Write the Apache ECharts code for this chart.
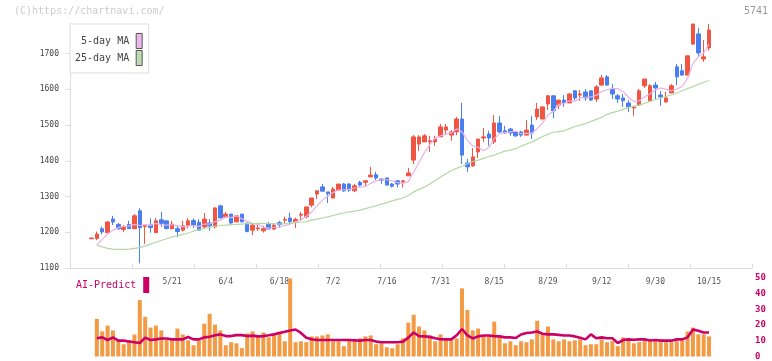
<!DOCTYPE html>
<html><head><meta charset="utf-8">
<script src="https://cdn.jsdelivr.net/npm/echarts@6/dist/echarts.min.js"></script>
<style>html,body{margin:0;padding:0;background:#fff}#c{width:772px;height:361px}</style>
</head><body><div id="c"></div>
<script>
// ---- data (index 0 = 2025-04-25 ... index 115 = 2025-10-15) ----
const openP = [1182,1183,1210,1199,1237,1222,1208,1222,1210,1260,1216,1220,1199,1235,1232,1210,1210,1206,1220,1233,1228,1215,1226,1215,1274,1243,1251,1229,1251,1226,1206,1210,1204,1223,1209,1227,1234,1240,1229,1248,1244,1276,1307,1327,1313,1296,1318,1335,1335,1316,1340,1340,1355,1361,1349,1352,1335,1344,1341,1358,1402,1447,1453,1453,1453,1467,1486,1472,1481,1517,1394,1386,1425,1464,1475,1453,1506,1484,1489,1481,1481,1472,1500,1523,1517,1559,1582,1556,1570,1562,1596,1584,1593,1596,1573,1612,1635,1601,1582,1576,1562,1548,1556,1610,1568,1612,1584,1565,1590,1663,1652,1640,1727,1755,1685,1716];
const closeP = [1184,1195,1201,1229,1229,1210,1214,1210,1246,1213,1220,1213,1232,1225,1210,1223,1202,1218,1232,1220,1206,1237,1218,1268,1240,1251,1226,1246,1229,1202,1220,1212,1210,1209,1220,1221,1236,1230,1236,1250,1271,1296,1316,1315,1308,1321,1335,1316,1318,1330,1332,1344,1360,1352,1346,1332,1329,1335,1344,1366,1467,1467,1470,1456,1461,1495,1495,1481,1517,1416,1383,1411,1461,1467,1464,1506,1481,1478,1478,1470,1472,1486,1478,1545,1551,1582,1540,1570,1562,1587,1576,1587,1576,1570,1607,1632,1612,1587,1573,1568,1551,1551,1596,1629,1610,1604,1579,1576,1610,1635,1640,1694,1783,1702,1691,1766];
const lowP = [1181,1178,1194,1198,1220,1207,1200,1210,1210,1113,1167,1199,1199,1215,1210,1210,1186,1202,1211,1212,1204,1211,1204,1211,1240,1240,1220,1229,1229,1200,1192,1204,1199,1209,1206,1213,1223,1220,1212,1232,1239,1270,1293,1315,1282,1295,1318,1313,1313,1313,1328,1330,1355,1346,1336,1332,1325,1325,1325,1358,1391,1427,1453,1425,1442,1467,1472,1456,1472,1391,1369,1383,1408,1453,1442,1447,1478,1475,1470,1467,1467,1472,1461,1514,1517,1542,1520,1545,1551,1562,1570,1568,1568,1568,1565,1610,1610,1573,1562,1551,1537,1526,1556,1604,1568,1573,1554,1562,1590,1612,1638,1640,1724,1694,1677,1708];
const highP = [1185,1202,1216,1230,1246,1226,1220,1232,1251,1267,1220,1239,1240,1257,1233,1232,1220,1232,1239,1239,1237,1254,1237,1271,1276,1257,1251,1246,1251,1226,1223,1223,1218,1229,1225,1232,1244,1255,1241,1257,1271,1296,1316,1335,1313,1327,1335,1338,1338,1335,1344,1346,1383,1369,1351,1352,1338,1346,1346,1380,1472,1472,1475,1470,1470,1503,1503,1486,1523,1562,1405,1436,1461,1492,1484,1528,1525,1498,1492,1481,1484,1514,1525,1562,1551,1584,1584,1570,1584,1590,1598,1598,1601,1596,1612,1640,1640,1615,1587,1587,1570,1551,1601,1629,1615,1621,1596,1593,1615,1671,1671,1694,1783,1772,1738,1783];
const ma5 = [null,1165,1180,1195,1206,1213,1217,1218,1222,1219,1221,1220,1225,1221,1220,1221,1218,1216,1217,1219,1216,1223,1223,1230,1234,1243,1241,1246,1238,1231,1225,1222,1215,1211,1214,1214,1219,1223,1229,1235,1245,1257,1274,1290,1301,1311,1319,1319,1320,1324,1326,1328,1337,1344,1347,1347,1344,1339,1337,1341,1368,1396,1423,1445,1464,1470,1475,1478,1490,1481,1458,1442,1438,1428,1437,1462,1476,1479,1481,1483,1476,1477,1477,1490,1506,1528,1539,1558,1561,1568,1567,1576,1578,1579,1583,1594,1599,1602,1602,1594,1578,1566,1568,1579,1587,1598,1604,1600,1596,1601,1608,1631,1672,1691,1702,1727];
const ma25 = [null,1164,1159,1155,1153,1152,1152,1153,1155,1157,1162,1167,1172,1177,1182,1187,1190,1194,1198,1203,1207,1211,1214,1217,1219,1220,1221,1222,1223,1224,1224,1225,1225,1224,1224,1223,1224,1225,1227,1228,1230,1234,1237,1240,1243,1247,1251,1254,1257,1259,1262,1266,1270,1274,1279,1283,1288,1292,1296,1303,1313,1320,1327,1335,1345,1355,1364,1373,1379,1385,1392,1398,1402,1407,1412,1416,1422,1427,1430,1434,1441,1447,1453,1460,1468,1474,1480,1482,1484,1490,1496,1500,1504,1510,1516,1522,1530,1535,1539,1544,1549,1553,1556,1561,1566,1571,1576,1580,1585,1590,1596,1602,1608,1614,1620,1625];
const volume = [null,24,16,19.7,16.6,10.3,7.8,10.3,14,36,25.3,18.4,19.7,16.6,10.9,10.9,17.8,14,10.3,7.2,10.3,20.9,27.2,20.3,16.6,7.2,9.1,8.4,5.3,14.7,16,12.5,15.3,12.2,14.1,15.9,9.7,49.7,9.1,9.7,9.1,12.8,12.8,13.4,14.1,9.7,9.7,6.6,10.9,9.7,11.6,12.8,13.4,7.8,8.4,5.9,5.3,7.8,11.6,21.6,26.6,19.1,16.6,13.4,9.7,14.1,10.3,10.3,11.6,43.4,29.7,16.6,17.8,13.4,13.4,22.2,12.8,8.4,9.7,7.2,9.7,9.1,10.9,22.8,14.1,19.1,10.9,9.7,10.9,9.7,10.3,10.9,7.2,7.8,7.8,10.9,9.1,9.7,6.6,12.2,10.3,8.4,9.1,10.3,9.7,9.7,9.1,9.1,9.1,9.7,10.3,15.9,18.4,14.1,14.1,12.8];
const aiPredict = [null,11.6,12.2,10.5,12.2,10.1,10.1,9.6,9.1,8.6,12.0,10.5,10.9,11.5,11.5,10.9,10.9,10.9,12.4,10.9,10.9,12.2,12.6,13.5,14.1,13.0,13.0,13.6,13.6,13.0,13.3,12.8,13.0,13.5,14.1,15.0,15.7,16.5,17.2,15.0,12.0,11.0,10.5,10.5,10.5,10.5,10.5,10.5,10.5,10.3,10.1,10.5,10.5,9.5,9.1,9.1,9.1,9.1,9.5,12.0,15.3,13.0,12.8,12.5,11.6,11.0,10.9,10.9,13.5,17.5,13.5,11.5,12.8,13.4,13.4,13.0,12.8,12.2,12.2,11.8,14.0,15.0,15.3,15.9,14.5,14.1,14.1,13.8,13.4,13.4,12.8,12.0,10.9,14.1,11.6,12.2,11.6,11.6,8.6,10.5,10.9,10.7,10.9,10.9,10.2,10.5,10.1,10.1,10.1,10.9,10.9,12.2,17.2,16.4,15.3,15.3];
const tickIndex = [15,25,35,45,55,65,75,85,95,105,115];
const tickLabels = ['5/21','6/4','6/18','7/2','7/16','7/31','8/15','8/29','9/12','9/30','10/15'];
const priceTicks = [1100,1200,1300,1400,1500,1600,1700];

const MONO = 'DejaVu Sans Mono';
const candleData = closeP.map((c, i) => [i, openP[i], c, lowP[i], highP[i]]);
const pair = arr => arr.map((v, i) => [i, v]);

const chart = echarts.init(document.getElementById('c'), null, {renderer: 'canvas'});
chart.setOption({
  animation: false,
  title: [
    {text: '(C)https://chartnavi.com/', left: 14, top: 6, padding: 0,
     textStyle: {fontFamily: MONO, fontSize: 10, color: '#cccccc', fontWeight: 'normal'}},
    {text: '5741', right: 4, top: 6, padding: 0,
     textStyle: {fontFamily: MONO, fontSize: 10, color: '#999999', fontWeight: 'normal'}}
  ],
  legend: [
    {data: [
       {name: '5-day MA', icon: 'rect', itemStyle: {color: '#ecb8ec', borderColor: '#555', borderWidth: 1}},
       {name: '25-day MA', icon: 'rect', itemStyle: {color: '#bcdcb0', borderColor: '#555', borderWidth: 1}}],
     orient: 'vertical', align: 'right', left: 70, top: 24, padding: [9, 6, 7, 5],
     itemGap: 1, itemWidth: 6, itemHeight: 15, selectedMode: false,
     borderColor: '#dddddd', borderWidth: 1, backgroundColor: '#fff',
     textStyle: {fontFamily: MONO, fontSize: 10, color: '#444', padding: [0, 2, 0, 0]}},
    {data: [{name: 'AI-Predict', icon: 'rect'}],
     orient: 'vertical', align: 'right', left: 76, top: 277, padding: 0,
     itemWidth: 6, itemHeight: 16, selectedMode: false,
     textStyle: {fontFamily: MONO, fontSize: 10, color: '#cc0066', padding: [2, 2, 0, 0]}}
  ],
  grid: [
    {left: 70, top: 24, width: 682, height: 244},
    {left: 70, top: 278, width: 682, height: 80.5}
  ],
  xAxis: [
    {type: 'value', gridIndex: 0, min: -4, max: 123, position: 'top', show: false},
    {type: 'value', gridIndex: 1, min: -4, max: 123, position: 'top',
     axisLine: {show: false}, axisTick: {show: false}, splitLine: {show: false},
     axisLabel: {inside: true, margin: 0, customValues: tickIndex,
       formatter: v => tickLabels[tickIndex.indexOf(v)] || '',
       fontFamily: MONO, fontSize: 8, color: '#555'}},
    {type: 'value', gridIndex: 0, min: 0, max: 11, interval: 1, position: 'bottom',
     axisLine: {onZero: false, lineStyle: {color: '#dddddd', width: 1}},
     axisTick: {inside: true, length: 4, lineStyle: {color: '#dddddd'}},
     axisLabel: {show: false}, splitLine: {show: false}}
  ],
  yAxis: [
    {type: 'value', gridIndex: 0, min: 1100, max: 1783,
     axisLine: {show: true, onZero: false, lineStyle: {color: '#dddddd', width: 1}},
     axisTick: {show: true, length: 5, customValues: priceTicks, lineStyle: {color: '#dddddd'}},
     axisLabel: {customValues: priceTicks, margin: 11, formatter: v => String(v),
       fontFamily: MONO, fontSize: 8, color: '#444'},
     splitLine: {show: false}},
    {type: 'value', gridIndex: 1, min: 0, max: 50, interval: 10, position: 'right',
     axisLine: {show: false, onZero: false}, axisTick: {show: false}, splitLine: {show: false},
     axisLabel: {margin: 3, fontFamily: MONO, fontSize: 9, color: '#cc0066', fontWeight: 'bold'}}
  ],
  series: [
    {type: 'candlestick', name: 'price', xAxisIndex: 0, yAxisIndex: 0, data: candleData,
     encode: {x: 0, y: [1, 2, 3, 4]}, barWidth: 4,
     itemStyle: {color: '#f05442', color0: '#4a7ef0', borderColor: '#f05442', borderColor0: '#4a7ef0', borderWidth: 1}},
    {type: 'line', name: '5-day MA', xAxisIndex: 0, yAxisIndex: 0, data: pair(ma5),
     showSymbol: false, symbol: 'none', lineStyle: {color: '#e8b2e8', width: 1.2}, itemStyle: {color: '#e8b2e8'}},
    {type: 'line', name: '25-day MA', xAxisIndex: 0, yAxisIndex: 0, data: pair(ma25),
     showSymbol: false, symbol: 'none', lineStyle: {color: '#b4d8a4', width: 1.2}, itemStyle: {color: '#b4d8a4'}},
    {type: 'bar', name: 'volume', xAxisIndex: 1, yAxisIndex: 1, data: pair(volume),
     barWidth: 4, itemStyle: {color: '#f39a45'}},
    {type: 'line', name: 'AI-Predict', xAxisIndex: 1, yAxisIndex: 1, data: pair(aiPredict),
     showSymbol: false, symbol: 'none', lineStyle: {color: '#cc0066', width: 2.6}, itemStyle: {color: '#cc0066'}}
  ]
});
</script></body></html>
